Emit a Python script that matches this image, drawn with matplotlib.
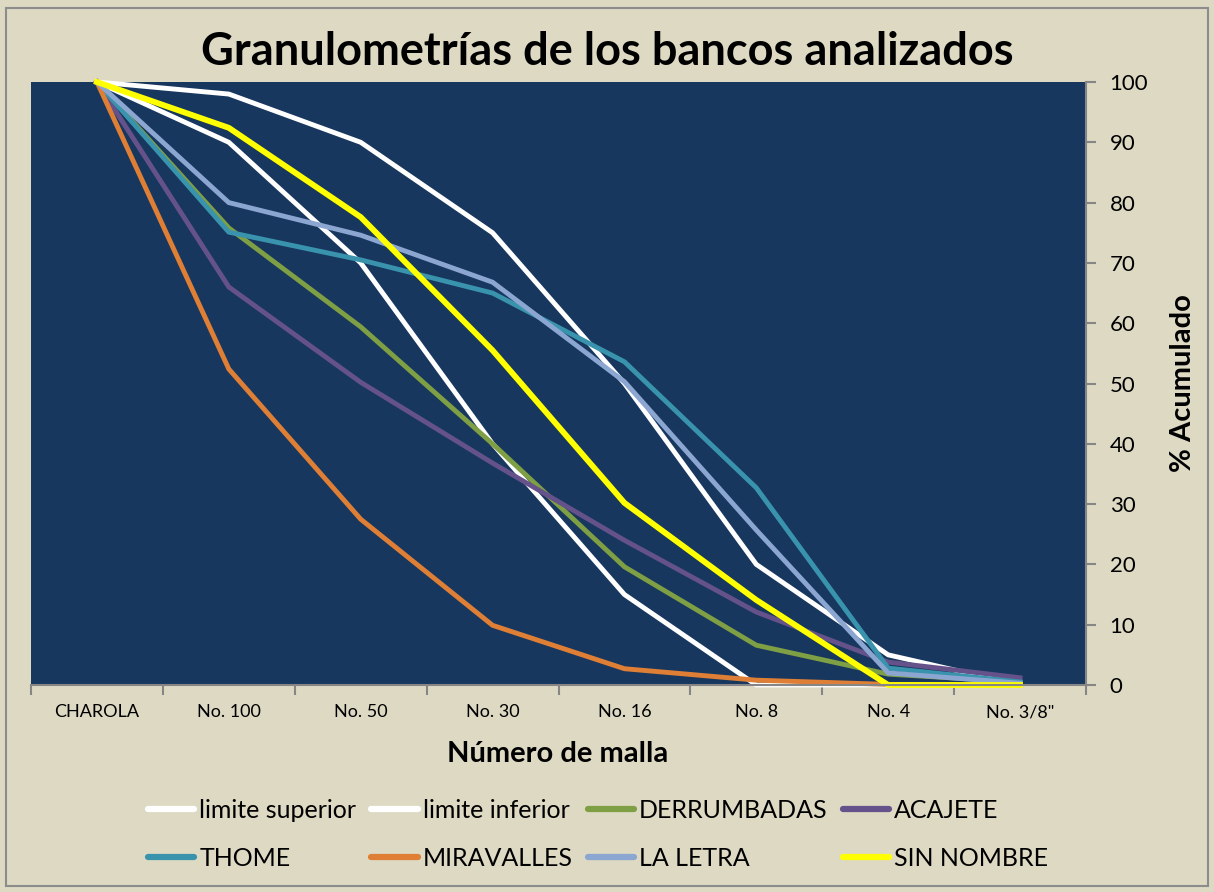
import matplotlib
matplotlib.use("Agg")
import matplotlib.pyplot as plt
from matplotlib.patches import Rectangle

plt.rcParams['font.family'] = ['Lato', 'DejaVu Sans']

# Data
categories = ["CHAROLA", "No. 100", "No. 50", "No. 30", "No. 16", "No. 8", "No. 4", 'No. 3/8"']
limite_superior = [100, 98, 90, 75, 50, 20, 5, 0]
limite_inferior = [100, 90, 70, 40, 15, 0, 0, 0]
derrumbadas = [100, 75.8, 59.4, 40, 19.6, 6.6, 1.8, 0.5]
acajete = [100, 66, 50.2, 36.8, 24, 12.1, 3.8, 1.2]
thome = [100, 75.1, 70.5, 65, 53.6, 32.7, 2.8, 0.5]
miravalles = [100, 52.4, 27.5, 9.9, 2.7, 0.8, 0.1, 0]
la_letra = [100, 80, 74.6, 66.8, 50.3, 25.7, 2, 0.3]
sin_nombre = [100, 92.4, 77.6, 55.5, 30.2, 14.1, 0, 0]

series = [
    ("limite superior", limite_superior, "#FFFFFF", 3.5),
    ("limite inferior", limite_inferior, "#FFFFFF", 3.5),
    ("DERRUMBADAS", derrumbadas, "#7F9F45", 3.5),
    ("ACAJETE", acajete, "#65528A", 3.5),
    ("THOME", thome, "#3993AD", 3.5),
    ("MIRAVALLES", miravalles, "#DF7F36", 3.5),
    ("LA LETRA", la_letra, "#8CA6D2", 3.5),
    ("SIN NOMBRE", sin_nombre, "#FFFF00", 4.2),
]

fig = plt.figure(figsize=(12.14, 8.92), dpi=100)
fig.patch.set_facecolor("#DDD9C3")
ax = fig.add_axes([31 / 1214, 1 - 685 / 892, (1086 - 31) / 1214, (685 - 82) / 892])
ax.set_facecolor("#17375E")

x = list(range(len(categories)))
handles = {}
for name, vals, color, lw in series:
    ln, = ax.plot(x, vals, color=color, lw=lw, label=name, clip_on=False,
                  solid_joinstyle="miter")
    handles[name] = ln

ax.set_xlim(-0.5, len(categories) - 0.5)
ax.set_ylim(0, 100)

# x axis: ticks at category boundaries, labels at centers
ax.set_xticks([i - 0.5 for i in range(len(categories) + 1)])
ax.set_xticklabels([])
ax.set_xticks(x, minor=True)
ax.set_xticklabels(categories, minor=True, fontsize=13)
ax.tick_params(axis="x", which="major", length=7, color="#868686", width=1.5, direction="out")
ax.tick_params(axis="x", which="minor", length=0, pad=14)

ax.yaxis.tick_right()
ax.yaxis.set_label_position("right")
ax.set_yticks(range(0, 101, 10))
ax.tick_params(axis="y", length=7, color="#868686", width=1.5, labelsize=16, pad=10)

for s in ["left", "top"]:
    ax.spines[s].set_visible(False)
for s in ["bottom", "right"]:
    ax.spines[s].set_color("#868686")
    ax.spines[s].set_linewidth(1.5)

fig.text(0.5, 1 - 52 / 892, "Granulometrías de los bancos analizados",
         ha="center", va="center", fontsize=32.5, fontweight="bold")
fig.text(558 / 1214, 1 - 754 / 892, "Número de malla",
         ha="center", va="center", fontsize=21, fontweight="bold")
fig.text(1183 / 1214, 1 - 383 / 892, "% Acumulado", rotation=90,
         ha="center", va="center", fontsize=21, fontweight="bold")

order = ["limite superior", "THOME", "limite inferior", "MIRAVALLES",
         "DERRUMBADAS", "LA LETRA", "ACAJETE", "SIN NOMBRE"]
leg = fig.legend([handles[n] for n in order], order, ncol=4, loc="center",
                 bbox_to_anchor=(598 / 1214, 1 - 834 / 892), frameon=False,
                 fontsize=18, handlelength=1.85, handletextpad=0.2,
                 columnspacing=0.6, labelspacing=1.0)
for h in leg.get_lines():
    h.set_linewidth(4.5)
    h.set_solid_capstyle("round")

fig.patches.append(Rectangle((6 / 1214, 6 / 892), 1202 / 1214, 878 / 892,
                             transform=fig.transFigure, fill=False,
                             edgecolor="#8C8C8C", lw=1.5))

fig.savefig("out.png", dpi=100, facecolor=fig.get_facecolor())
